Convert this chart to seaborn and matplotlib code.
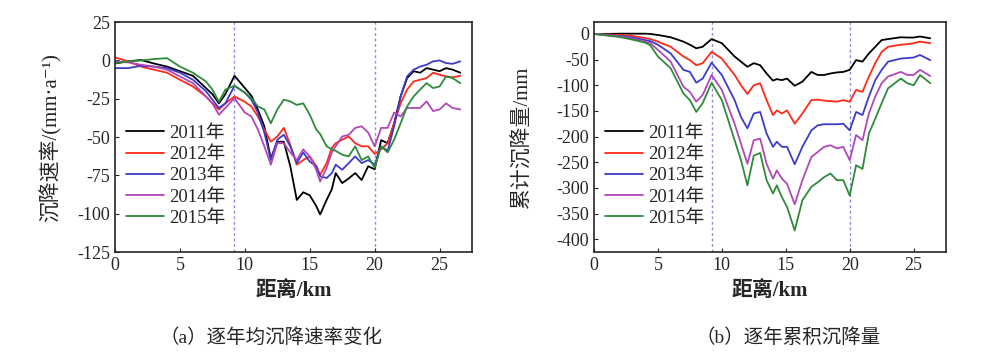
"""Yearly subsidence rate and cumulative subsidence along the profile."""
import pandas as pd
import matplotlib
matplotlib.use("Agg")
import matplotlib.pyplot as plt
import seaborn as sns

years = ["2011年", "2012年", "2013年", "2014年", "2015年"]
colors = ["#000000", "#ff2a1a", "#3c3cc8", "#b048b8", "#2e8b3a"]

# (a) yearly mean subsidence rate, mm/a
dist_a = [0, 1, 2, 3, 4, 5, 6, 7, 7.5, 8, 8.5, 9.2, 10, 10.5, 11, 11.5, 12, 12.5,
          13, 13.5, 14, 14.5, 15, 15.5, 15.8, 16.3, 16.7, 17, 17.5, 18, 18.5, 19,
          19.5, 20, 20.5, 21, 21.5, 22, 22.5, 23, 23.5, 24, 24.5, 25, 25.5, 26, 26.6]
rate_2011 = [-2, -0.6, 0.3, -2, -4, -7, -10, -18, -22, -28, -22, -10, -18, -23, -32,
             -43, -64, -53, -53, -69, -91, -86, -88, -95, -100.5, -91, -84, -73.5,
             -80, -77, -73.5, -78, -69, -71, -52, -54, -41, -23.5, -11.5, -7, -8,
             -5, -6, -7, -5, -6, -8]
rate_2012 = [2, -0.6, -4, -6, -8, -12.6, -17, -23.5, -28, -32, -28, -23.5, -27, -30,
             -36.5, -45, -53, -49.6, -44, -55, -68, -65, -62.6, -69, -74.6, -67,
             -57, -54, -51.7, -49.6, -54, -56, -56, -61, -58, -54, -41, -28, -19,
             -13.7, -12.6, -11.5, -8, -9.3, -10.4, -11, -10]
rate_2013 = [-5, -5, -3.5, -4, -5, -8, -12.6, -20, -25.6, -31, -28, -16.5, -21, -25.6,
             -34, -47, -65, -51.7, -48.5, -56, -67, -60, -66, -69, -75.6, -76.7,
             -73.5, -68, -71.3, -67, -62.6, -67, -65, -68, -56, -59, -43, -23.5,
             -10.4, -6, -4, -2.8, -0.6, 0, -1.7, -2.2, -0.6]
rate_2014 = [-0.6, -1.3, -2.8, -4, -6, -10.4, -14.8, -23.5, -28, -35.4, -31, -24.6,
             -34, -36.5, -45, -56, -68, -54, -54, -60, -65, -58, -62.6, -71.3, -79,
             -70, -60, -56, -49.6, -48.5, -44, -43, -47, -56, -44, -44, -34, -36.5,
             -31, -31, -31, -26.7, -33, -32, -28, -31, -32]
rate_2015 = [-1.7, -0.6, 0, 0.9, 1.5, -4, -8, -13.7, -19, -27, -19, -16.5, -21, -24.6,
             -30, -32, -41, -32, -25.6, -26.7, -29, -28, -35.4, -45, -48, -56, -58,
             -59, -61.5, -62.6, -56, -65, -62.6, -70, -56, -60, -51.7, -41, -30,
             -23.5, -19, -14.8, -18, -17, -10.4, -11.5, -14.8]

# (b) cumulative subsidence, mm
dist_b = [0, 1, 2, 3, 4, 4.4, 5, 6, 7, 7.5, 8, 8.5, 9.2, 10, 11, 11.5, 12, 12.5, 13,
          13.5, 14, 14.3, 14.7, 15.1, 15.7, 16.3, 17, 17.5, 18, 18.5, 19, 19.5, 20,
          20.5, 21, 21.5, 22, 22.5, 23, 24, 24.5, 25, 25.5, 26.3]
cum_2011 = [0, 0, 0.5, 0.5, 0.5, 0, -2, -6.5, -15, -21, -28, -25, -10, -18, -44, -54,
            -64, -57, -61, -77, -91, -88, -90, -87, -101, -93, -74, -80, -80, -77,
            -75, -74, -70, -51, -54, -38, -25, -12, -10, -6.5, -7, -7, -5, -8.5]
cum_2012 = [0, -1, -2, -4, -8, -10, -15, -25, -44, -51, -61, -57, -35, -48, -80, -100,
            -117, -100, -96, -129, -158, -149, -155, -149, -175, -155, -129, -128,
            -130, -131, -132, -129, -132, -109, -113, -83, -57, -35, -25, -21, -20,
            -18, -15, -18]
cum_2013 = [0, -2, -4, -7, -12, -14, -21, -38, -70, -74, -95, -87, -56, -80, -129,
            -162, -184, -155, -152, -194, -220, -210, -220, -220, -254, -220, -188,
            -178, -176, -176, -176, -175, -188, -152, -158, -122, -90, -70, -54, -48,
            -47, -46, -41, -51]
cum_2014 = [0, -2.5, -5, -9, -15, -18, -31, -54, -103, -113, -132, -119, -80, -109,
            -175, -214, -253, -207, -204, -253, -282, -266, -282, -292, -332, -285,
            -240, -230, -220, -217, -223, -220, -246, -197, -207, -155, -122, -96,
            -83, -74, -80, -80, -70, -82]
cum_2015 = [0, -3, -6, -11, -17, -22, -44, -67, -116, -129, -152, -135, -95, -129,
            -207, -246, -295, -237, -232, -285, -311, -295, -318, -337, -383, -324,
            -298, -289, -279, -272, -285, -285, -315, -256, -263, -194, -165, -135,
            -106, -87, -96, -100, -80, -96]

boundaries = [9.2, 20.0]


def long_frame(dist, series):
    """Stack the per-year lists into one long table."""
    parts = []
    for year, values in zip(years, series):
        parts.append(pd.DataFrame({"dist": dist, "value": values, "year": year}))
    return pd.concat(parts, ignore_index=True)


df_a = long_frame(dist_a, [rate_2011, rate_2012, rate_2013, rate_2014, rate_2015])
df_b = long_frame(dist_b, [cum_2011, cum_2012, cum_2013, cum_2014, cum_2015])

sns.set_style("ticks")
plt.rcParams["font.family"] = ["Liberation Serif", "Noto Sans CJK SC", "DejaVu Serif"]
plt.rcParams["axes.unicode_minus"] = False

fig = plt.figure(figsize=(9.85, 3.57), dpi=100)
ax1 = fig.add_axes([0.1168, 0.294, 0.3624, 0.644])
ax2 = fig.add_axes([0.603, 0.294, 0.357, 0.644])

palette = dict(zip(years, colors))
for ax, df in [(ax1, df_a), (ax2, df_b)]:
    sns.lineplot(data=df, x="dist", y="value", hue="year", palette=palette,
                 sort=False, linewidth=1.3, ax=ax)
    for b in boundaries:
        ax.axvline(b, color="#8c8ce0", linestyle=(0, (2, 2)), linewidth=1.0, zorder=0)
    ax.set_xlim(0, 27.5)
    ax.set_xticks([0, 5, 10, 15, 20, 25])
    ax.tick_params(direction="in", labelsize=13, length=3, width=0.8)
    for s in ax.spines.values():
        s.set_linewidth(1.2)
    ax.set_xlabel("距离/km", fontsize=15, fontweight="bold", labelpad=5)
    ax.legend(title=None, frameon=False, fontsize=13.5, loc="lower left",
              bbox_to_anchor=(0.0, 0.06), handlelength=2.0, handletextpad=0.3,
              labelspacing=0.22, borderaxespad=0.2)

ax1.set_ylim(-125, 25)
ax1.set_yticks([25, 0, -25, -50, -75, -100, -125])
ax1.set_ylabel("沉降速率/(mm·a⁻¹)", fontsize=15, labelpad=11)

ax2.set_ylim(-425, 23)
ax2.set_yticks([0, -50, -100, -150, -200, -250, -300, -350, -400])
ax2.set_ylabel("累计沉降量/mm", fontsize=15, labelpad=17)

fig.text(0.275, 0.055, "（a）逐年均沉降速率变化", ha="center", va="center", fontsize=14)
fig.text(0.80, 0.055, "（b）逐年累积沉降量", ha="center", va="center", fontsize=14)

fig.savefig("out.png", dpi=100, facecolor="white")
